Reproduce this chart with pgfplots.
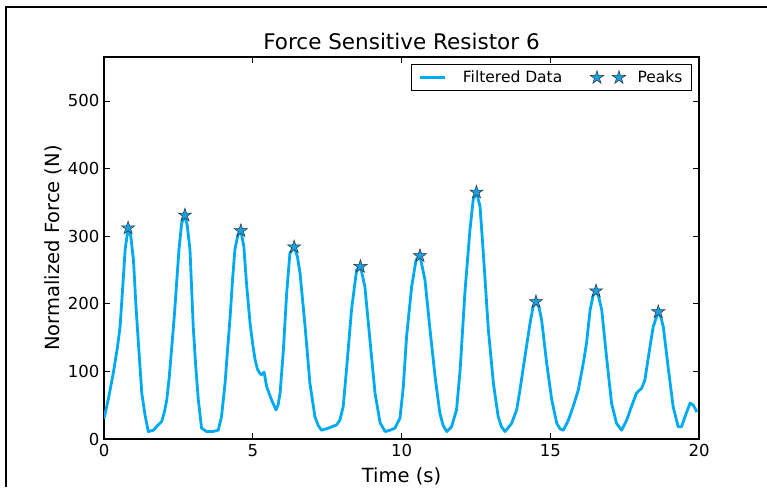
\documentclass[border=0pt]{standalone}
\usepackage{fontspec}
\setmainfont{DejaVu Sans}
\usepackage{pgfplots}
\pgfplotsset{compat=1.18}

\definecolor{lineblue}{RGB}{0,170,240}
\definecolor{starblue}{RGB}{24,158,226}

% filled five-point star, like matplotlib's '*'
\pgfdeclareplotmark{fstar}{%
  \pgfpathmoveto{\pgfpointpolar{90}{\pgfplotmarksize}}%
  \pgfpathlineto{\pgfpointpolar{126}{0.382\pgfplotmarksize}}%
  \pgfpathlineto{\pgfpointpolar{162}{\pgfplotmarksize}}%
  \pgfpathlineto{\pgfpointpolar{198}{0.382\pgfplotmarksize}}%
  \pgfpathlineto{\pgfpointpolar{234}{\pgfplotmarksize}}%
  \pgfpathlineto{\pgfpointpolar{270}{0.382\pgfplotmarksize}}%
  \pgfpathlineto{\pgfpointpolar{306}{\pgfplotmarksize}}%
  \pgfpathlineto{\pgfpointpolar{342}{0.382\pgfplotmarksize}}%
  \pgfpathlineto{\pgfpointpolar{18}{\pgfplotmarksize}}%
  \pgfpathlineto{\pgfpointpolar{54}{0.382\pgfplotmarksize}}%
  \pgfpathclose
  \pgfusepathqfillstroke}

\begin{document}
\begin{tikzpicture}
\useasboundingbox (-104pt,-48pt) rectangle (663pt,439pt);
\begin{axis}[
  scale only axis,
  width=595pt, height=382pt,
  xmin=0, xmax=20, ymin=0, ymax=565,
  xtick={0,5,...,20}, ytick={0,100,...,500},
  tick pos=both, tick align=inside,
  major tick length=6pt,
  every tick/.style={black, line width=0.6pt},
  axis line style={line width=1.1pt},
  /pgf/number format/assume math mode=true,
  tick label style={font=\fontsize{16.5}{19}\selectfont},
  xticklabel style={yshift=-2pt},
  yticklabel style={xshift=-1pt},
  title={Force Sensitive Resistor 6},
  title style={font=\fontsize{21.5}{24}\selectfont, at={(axis description cs:0.5,1)}, anchor=center, yshift=10pt},
  xlabel={Time (s)},
  xlabel style={font=\fontsize{19.5}{22}\selectfont, at={(axis description cs:0.5,0)}, anchor=center, yshift=-37pt},
  ylabel={Normalized Force (N)},
  ylabel style={font=\fontsize{19.5}{22}\selectfont, at={(axis description cs:0,0.5)}, anchor=center, yshift=51pt},
  legend columns=2,
  legend style={at={(axis description cs:1,1)}, anchor=north east, xshift=-7pt, yshift=-7pt,
    draw=black, line width=1pt, font=\fontsize{15.5}{18}\selectfont,
    inner xsep=7pt, inner ysep=4.5pt,
    /tikz/every odd column/.append style={column sep=10pt},
    /tikz/every even column/.append style={column sep=26pt}},
]
\addplot[lineblue, line width=2.8pt, line join=round,
  legend image code/.code={\draw[lineblue, line width=2.8pt] (0pt,0pt) -- (25pt,0pt);
    \path (30pt,0pt);}]
coordinates {
(0.00,30) (0.15,60) (0.31,97) (0.45,135) (0.54,166) (0.63,225) (0.71,280) (0.81,312)
(0.90,300) (0.99,265) (1.07,200) (1.15,146) (1.27,68) (1.38,35) (1.49,11) (1.66,13)
(1.80,20) (1.94,26) (2.03,40) (2.11,58) (2.19,90) (2.27,132) (2.36,180) (2.44,230)
(2.52,280) (2.61,319) (2.72,331) (2.80,315) (2.89,280) (3.00,166) (3.08,110) (3.17,58)
(3.28,16) (3.45,11) (3.65,11) (3.84,13) (3.95,33) (4.07,83) (4.15,130) (4.24,181)
(4.32,235) (4.40,280) (4.50,302) (4.60,308) (4.70,285) (4.79,230) (4.91,171) (5.00,140)
(5.08,117) (5.16,103) (5.24,97) (5.30,95) (5.38,99) (5.47,77) (5.63,58) (5.78,43)
(5.85,50) (5.92,68) (6.03,132) (6.14,216) (6.25,275) (6.39,284) (6.50,270) (6.59,245)
(6.76,166) (6.92,83) (7.09,33) (7.20,20) (7.31,13) (7.54,16) (7.82,21) (7.93,28)
(8.04,48) (8.16,107) (8.32,191) (8.49,250) (8.62,255) (8.77,225) (8.94,146) (9.11,68)
(9.28,24) (9.45,11) (9.61,13) (9.78,16) (9.95,31) (10.06,77) (10.17,151) (10.34,225)
(10.49,265) (10.62,271) (10.79,235) (10.96,161) (11.13,92) (11.29,38) (11.40,20) (11.52,11)
(11.68,18) (11.85,43) (11.97,102) (12.13,216) (12.30,309) (12.41,354) (12.52,365) (12.64,344)
(12.75,275) (12.92,161) (13.09,82) (13.25,33) (13.36,18) (13.48,11) (13.70,23) (13.87,43)
(13.98,72) (14.15,122) (14.32,171) (14.42,195) (14.52,203) (14.62,195) (14.71,176) (14.88,112)
(15.05,58) (15.22,23) (15.33,15) (15.44,13) (15.61,28) (15.77,48) (15.94,72) (16.11,112)
(16.22,142) (16.34,191) (16.44,212) (16.54,219) (16.63,210) (16.73,191) (16.89,122) (17.06,53)
(17.23,23) (17.40,13) (17.57,28) (17.73,48) (17.90,68) (18.07,75) (18.18,87) (18.30,122)
(18.46,166) (18.63,188) (18.72,180) (18.80,166) (18.96,107) (19.13,48) (19.30,18) (19.41,18)
(19.53,33) (19.70,53) (19.81,50) (19.93,40)
};
\addlegendentry{Filtered Data}
\addplot[only marks, mark=fstar, mark size=7pt,
  mark options={fill=starblue, draw=black!80, line width=0.5pt},
  legend image code/.code={\path plot[only marks, mark=fstar, mark size=7pt,
    mark options={fill=starblue, draw=black!80, line width=0.5pt}]
    coordinates {(0pt,0pt) (22pt,0pt)};}]
coordinates {
(0.81,312) (2.72,331) (4.60,308) (6.39,284) (8.62,255)
(10.62,271) (12.52,365) (14.52,203) (16.54,219) (18.63,188)
};
\addlegendentry{Peaks}
\end{axis}
\draw[line width=2pt] (-98pt,-48pt) -- (-98pt,432pt) -- (663pt,432pt);
\end{tikzpicture}
\end{document}
